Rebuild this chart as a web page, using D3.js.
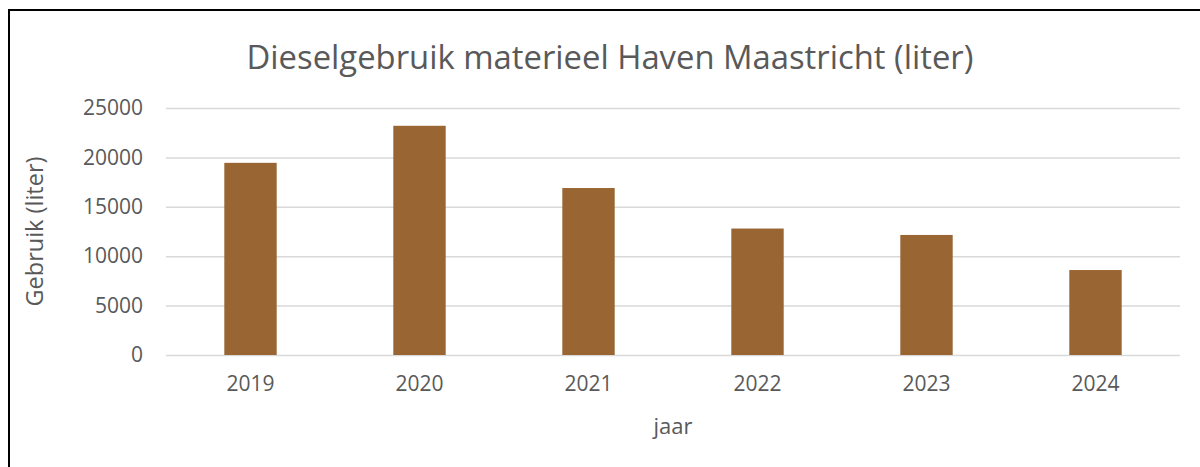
<!DOCTYPE html>
<html>
<head>
<meta charset="utf-8">
<script src="https://cdn.jsdelivr.net/npm/d3@7"></script>
<style>
  body { margin: 0; background: #fff; }
  text { font-family: "Open Sans", sans-serif; fill: #595959; }
</style>
</head>
<body>
<div id="chart"></div>
<script>
const years = ['2019', '2020', '2021', '2022', '2023', '2024'];
const usage = [19450, 23200, 16900, 12800, 12150, 8600];
const yTicks = [0, 5000, 10000, 15000, 20000, 25000];

const W = 1200, H = 467;
const margin = { top: 108, right: 20, bottom: 112, left: 166 },
	width = 1180 - margin.left,
	height = H - margin.top - margin.bottom;

const svg = d3.select('#chart')
	.append('svg')
	.attr('width', W)
	.attr('height', H);

// outer frame (only top/left visible, rest runs off the picture)
svg.append('rect')
	.attr('x', 9)
	.attr('y', 10)
	.attr('width', W + 20)
	.attr('height', H + 20)
	.attr('fill', 'none')
	.attr('stroke', '#000')
	.attr('stroke-width', 2);

const g = svg.append('g')
	.attr('transform', `translate(${margin.left}, ${margin.top})`);

const x = d3.scaleBand()
	.domain(years)
	.range([0, width])
	.paddingInner(0.69)
	.paddingOuter(0.345);

const y = d3.scaleLinear().domain([0, 25000]).range([height, 0]);

// gridlines
g.append('g')
	.call(d3.axisLeft(y).tickValues(yTicks).tickSize(-width).tickFormat(''))
	.call(a => a.select('.domain').remove())
	.selectAll('line')
	.attr('stroke', '#d9d9d9')
	.attr('stroke-width', 1.5);

// y tick labels
g.append('g')
	.call(d3.axisLeft(y).tickValues(yTicks).tickSize(0).tickPadding(23).tickFormat(d3.format('d')))
	.call(a => a.select('.domain').remove())
	.selectAll('text')
	.style('font-size', '21px')
	.attr('fill', '#595959');

// bars
g.selectAll('.bar')
	.data(usage)
	.join('rect')
	.attr('class', 'bar')
	.attr('x', (d, i) => x(years[i]))
	.attr('y', d => y(d))
	.attr('width', x.bandwidth())
	.attr('height', d => height - y(d))
	.attr('fill', '#996633');

// x axis labels
g.append('g')
	.attr('transform', `translate(0, ${height})`)
	.call(d3.axisBottom(x).tickSize(0).tickPadding(21))
	.call(a => a.select('.domain').remove())
	.selectAll('text')
	.style('font-size', '21px')
	.attr('fill', '#595959');

// title
svg.append('text')
	.attr('x', 610)
	.attr('y', 69)
	.attr('text-anchor', 'middle')
	.style('font-size', '32.8px')
	.text('Dieselgebruik materieel Haven Maastricht (liter)');

// axis titles
svg.append('text')
	.attr('transform', `translate(43, ${margin.top + height / 2}) rotate(-90)`)
	.attr('text-anchor', 'middle')
	.style('font-size', '23.5px')
	.text('Gebruik (liter)');

svg.append('text')
	.attr('x', margin.left + width / 2)
	.attr('y', 434)
	.attr('text-anchor', 'middle')
	.style('font-size', '22px')
	.text('jaar');
</script>
</body>
</html>
